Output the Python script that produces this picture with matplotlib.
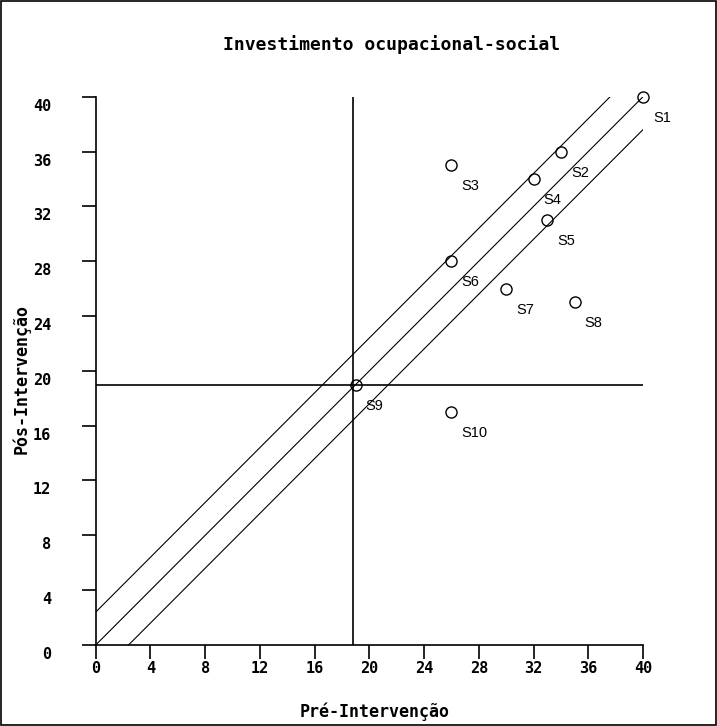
#!/usr/bin/env python3
"""Reliable change plot: occupational-social investment, pre vs post."""
import matplotlib
matplotlib.use('Agg')
import matplotlib.pyplot as plt
import matplotlib.transforms as mtransforms
from matplotlib.patches import Rectangle

# data
subjects = ['S1', 'S2', 'S3', 'S4', 'S5', 'S6', 'S7', 'S8', 'S9', 'S10']
pre = [40, 34, 26, 32, 33, 26, 30, 35, 19, 26]
post = [40, 36, 35, 34, 31, 28, 26, 25, 19, 17]
cutoff_pre = 18.8
cutoff_post = 19.0
rci_band = 2.4
ticks = [0, 4, 8, 12, 16, 20, 24, 28, 32, 36, 40]
lim = 40

mono = 'DejaVu Sans Mono'

fig = plt.figure(figsize=(7.17, 7.26), dpi=100)
ax = fig.add_axes([0.1335, 0.1116, 0.7633, 0.7552])

# diagonal: no change line and reliable change band
ax.plot([0, lim], [0, lim], color='black', lw=0.8)
ax.plot([0, lim - rci_band], [rci_band, lim], color='black', lw=0.8)
ax.plot([rci_band, lim], [0, lim - rci_band], color='black', lw=0.8)

# clinical cutoffs
ax.plot([cutoff_pre, cutoff_pre], [0, lim], color='black', lw=1.2)
ax.plot([0, lim], [cutoff_post, cutoff_post], color='black', lw=1.2)

ax.plot(pre, post, 'o', ms=8, mfc='none', mec='black', mew=1.0, clip_on=False)
for s, x, y in zip(subjects, pre, post):
    ax.annotate(s, (x, y), xytext=(10, -21), textcoords='offset pixels',
                ha='left', va='center', fontsize=10.5, family='Liberation Sans')

ax.set_xlim(0, lim)
ax.set_ylim(0, lim)
ax.set_xticks(ticks)
ax.set_yticks(ticks)
for sp in ['top', 'right']:
    ax.spines[sp].set_visible(False)
for sp in ['left', 'bottom']:
    ax.spines[sp].set_linewidth(1.2)
ax.tick_params(direction='out', length=10, width=1.2)
ax.tick_params(axis='x', pad=1.5)
ax.tick_params(axis='y', pad=22)
for lab in ax.get_xticklabels() + ax.get_yticklabels():
    lab.set_family(mono)
    lab.set_fontweight('bold')
    lab.set_fontsize(11)
shift = mtransforms.ScaledTranslation(0, -8 / 100, fig.dpi_scale_trans)
for lab in ax.get_yticklabels():
    lab.set_transform(lab.get_transform() + shift)

fig.text(391.7 / 717, 1 - 45 / 726, 'Investimento ocupacional-social', ha='center',
         va='center', family=mono, fontweight='bold', fontsize=13)
fig.text(375 / 717, 1 - 712 / 726, 'Pré-Intervenção', ha='center', va='center',
         family=mono, fontweight='bold', fontsize=12)
fig.text(21.5 / 717, 1 - 379 / 726, 'Pós-Intervenção', ha='center', va='center',
         rotation=90, family=mono, fontweight='bold', fontsize=12)

# frame round the whole picture
fig.patches.append(Rectangle((0.002, 0.002), 0.996, 0.996, transform=fig.transFigure,
                             fill=False, ec='black', lw=1.2))

fig.savefig('out.png', dpi=100)
